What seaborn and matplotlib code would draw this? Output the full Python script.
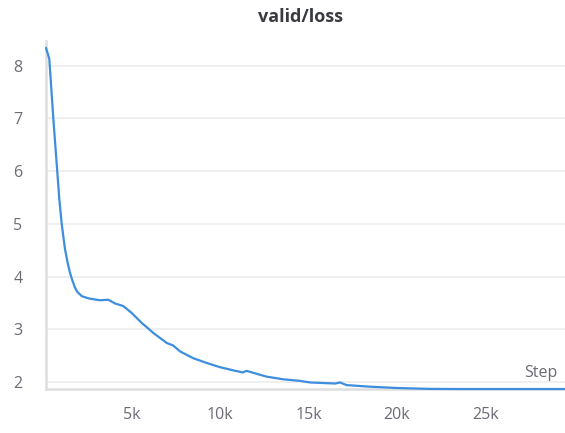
import numpy as np
import pandas as pd
import matplotlib
matplotlib.use("Agg")
import matplotlib.pyplot as plt
import matplotlib.ticker as mticker
import seaborn as sns

sns.set_style("white")
plt.rcParams['font.family'] = ['Open Sans', 'DejaVu Sans']

# valid loss readings
steps = [130, 317, 544, 884, 1019, 1206, 1350, 1489, 1630, 1772, 1900, 2150,
         2400, 2622, 3188, 3658, 4037, 4508, 4980, 5250, 5549, 5900, 6206,
         6965, 7339, 7718, 8471, 9230, 9983, 10736, 11268, 11495, 11900,
         12627, 13568, 14513, 15079, 16500, 16777, 17157, 18476, 19988, 21874,
         23500, 25500, 27500, 29500]
loss = [8.34, 8.13, 7.00, 5.47, 5.00, 4.52, 4.27, 4.07, 3.92, 3.79, 3.71, 3.63,
        3.60, 3.58, 3.55, 3.56, 3.49, 3.44, 3.31, 3.22, 3.12, 3.02, 2.93,
        2.74, 2.69, 2.58, 2.45, 2.36, 2.28, 2.22, 2.18, 2.21, 2.17,
        2.10, 2.05, 2.02, 1.99, 1.97, 1.99, 1.94, 1.91, 1.885, 1.868,
        1.866, 1.866, 1.866, 1.866]
x_ticks = [5000, 10000, 15000, 20000, 25000]
y_ticks = [2, 3, 4, 5, 6, 7, 8]

df = pd.DataFrame({'step': steps, 'loss': loss})

fig = plt.figure(figsize=(5.65, 4.33), dpi=100)
ax = fig.add_axes([46 / 565, 1 - 389 / 433, 519 / 565, 348 / 433])

sns.lineplot(data=df, x='step', y='loss', ax=ax, color='#3d8ede',
             linewidth=1.6, clip_on=False, zorder=5)

ax.set_xlim(130, 29520)
ax.set_ylim(1.866, 8.47)
ax.set_xticks(x_ticks)
ax.set_yticks(y_ticks)
ax.xaxis.set_major_formatter(mticker.FuncFormatter(lambda v, p: f"{int(v / 1000)}k"))

ax.grid(axis='y', color='#ececec', linewidth=1.2)
ax.grid(axis='x', visible=False)
for s in ['top', 'right']:
    ax.spines[s].set_visible(False)
for s in ['left', 'bottom']:
    ax.spines[s].set_color('#dedede')
    ax.spines[s].set_linewidth(1.8)

ax.tick_params(axis='x', direction='inout', length=14, width=1.3,
               color='#dedede', labelsize=11.5, labelcolor='#6b6b76', pad=6)
ax.tick_params(axis='y', direction='out', length=7, width=1.2,
               color='#ececec', labelsize=11.5, labelcolor='#6b6b76', pad=10)

ax.set_xlabel('')
ax.set_ylabel('')
ax.text(0.985, 0.023, 'Step', transform=ax.transAxes, ha='right', va='bottom',
        fontsize=11.5, color='#6b6b76')
fig.text(300 / 565, 1 - 17 / 433, 'valid/loss', ha='center', va='center',
         fontsize=13, fontweight='bold', color='#3a3b41')

plt.savefig('out.png', dpi=100)
